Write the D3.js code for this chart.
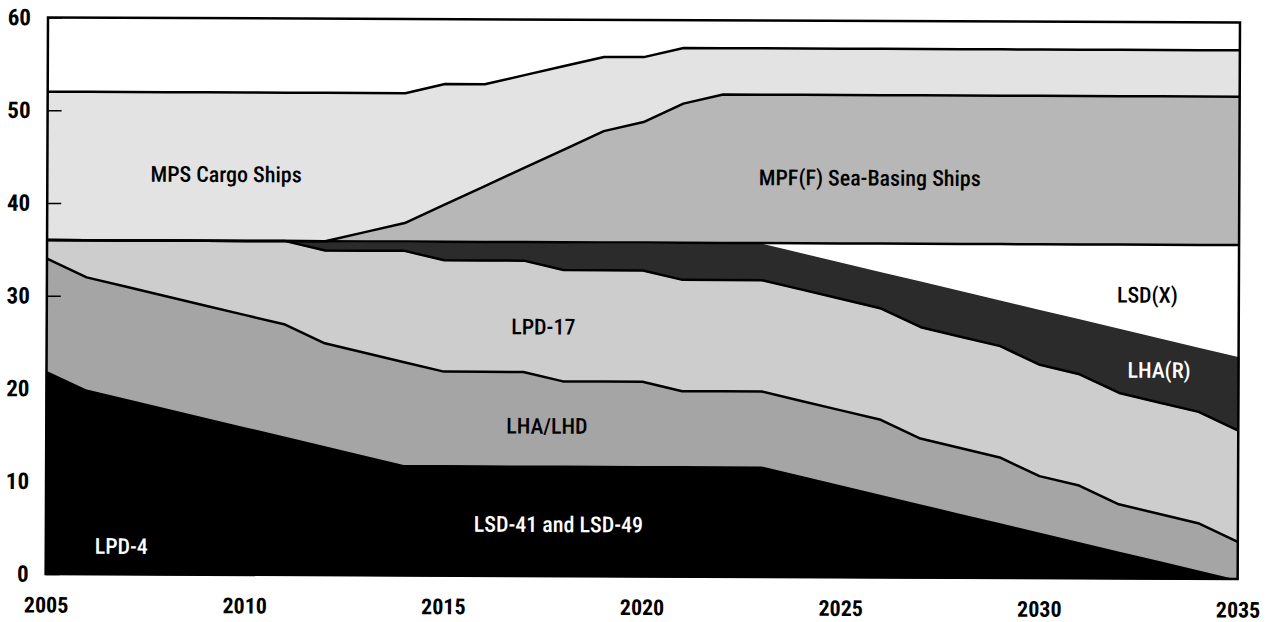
<!DOCTYPE html>
<html>
<head>
<meta charset="utf-8">
<script src="https://cdn.jsdelivr.net/npm/d3@7"></script>
<style>
body { margin: 0; background: #fff; }
svg text { font-family: "Roboto Condensed", "DejaVu Sans Condensed", sans-serif; }
</style>
</head>
<body>
<script>
// ships by year (bottom layer first)
years      = [2005,2006,2007,2008,2009,2010,2011,2012,2013,2014,2015,2016,2017,2018,2019,2020,2021,2022,2023,2024,2025,2026,2027,2028,2029,2030,2031,2032,2033,2034,2035];
lsd41_49   = [12,12,12,12,12,12,12,12,12,12,12,12,12,12,12,12,12,12,12,11,10,9,8,7,6,5,4,3,2,1,0];
lpd4       = [10,8,7,6,5,4,3,2,1,0,0,0,0,0,0,0,0,0,0,0,0,0,0,0,0,0,0,0,0,0,0];
lhaLhd     = [12,12,12,12,12,12,12,11,11,11,10,10,10,9,9,9,8,8,8,8,8,8,7,7,7,6,6,5,5,5,4];
lpd17      = [2,4,5,6,7,8,9,10,11,12,12,12,12,12,12,12,12,12,12,12,12,12,12,12,12,12,12,12,12,12,12];
lhaR       = [0,0,0,0,0,0,0,1,1,1,2,2,2,3,3,3,4,4,4,4,4,4,5,5,5,6,6,7,7,7,8];
lsdX       = [0,0,0,0,0,0,0,0,0,0,0,0,0,0,0,0,0,0,0,1,2,3,4,5,6,7,8,9,10,11,12];
mpff       = [0,0,0,0,0,0,0,0,1,2,4,6,8,10,12,13,15,16,16,16,16,16,16,16,16,16,16,16,16,16,16];
mpsCargo   = [16,16,16,16,16,16,16,16,15,14,13,11,10,9,8,7,6,5,5,5,5,5,5,5,5,5,5,5,5,5,5];

xTicks = [2005,2010,2015,2020,2025,2030,2035];
yTicks = [0,10,20,30,40,50,60];

width = 1269;
height = 622;
margin = { top: 17.5, right: 29, bottom: 48, left: 48 };

keys = ["LSD-41 and LSD-49","LPD-4","LHA/LHD","LPD-17","LHA(R)","LSD(X)","MPF(F)","MPS"];
var columns = [lsd41_49, lpd4, lhaLhd, lpd17, lhaR, lsdX, mpff, mpsCargo];
var fills = ["#000","#000","#a5a5a5","#cdcdcd","#2b2b2b","#fff","#b7b7b7","#e3e3e3"];
// layers whose top edge gets a black rule
var ruled = ["LHA/LHD","LPD-17","LSD(X)","MPF(F)","MPS"];

data = years.map(function(yr, i){
    var rec = { year: yr };
    keys.forEach(function(k, j){ rec[k] = columns[j][i]; });
    return rec;
});

series = d3.stack().keys(keys)(data);

x = d3.scaleLinear()
    .domain([2005, 2035])
    .range([margin.left, width - margin.right]);

y = d3.scaleLinear()
    .domain([0, 60])
    .range([height - margin.bottom, margin.top]);

area = d3.area()
    .x(d => x(d.data.year))
    .y0(d => y(d[0]))
    .y1(d => y(d[1]));

topLine = d3.line()
    .x(d => x(d.data.year))
    .y(d => y(d[1]));

const svg = d3.select("body")
    .append("svg")
    .attr("width", width)
    .attr("height", height);

// the printed page is scanned slightly askew
const g = svg.append("g")
    .attr("transform", "rotate(0.24," + margin.left + "," + margin.top + ")");

// stroke in the fill colour hides the hairline seams between layers
g.append("g")
    .selectAll("path")
    .data(series)
    .join("path")
    .attr("fill", (d, i) => fills[i])
    .attr("stroke", (d, i) => fills[i])
    .attr("stroke-width", 1.5)
    .attr("d", area);

g.append("g")
    .selectAll("path")
    .data(series.filter(s => ruled.indexOf(s.key) >= 0))
    .join("path")
    .attr("fill", "none")
    .attr("stroke", "#000")
    .attr("stroke-width", 2.5)
    .attr("stroke-linejoin", "round")
    .attr("d", topLine);

// frame
g.append("rect")
    .attr("x", margin.left)
    .attr("y", margin.top)
    .attr("width", width - margin.left - margin.right)
    .attr("height", height - margin.top - margin.bottom)
    .attr("fill", "none")
    .attr("stroke", "#000")
    .attr("stroke-width", 2.5);

// short inner ticks
g.append("g")
    .attr("transform", `translate(${margin.left},0)`)
    .call(d3.axisRight(y).tickValues(yTicks).tickSize(14).tickFormat(""))
    .call(g => g.select(".domain").remove())
    .call(g => g.selectAll("line").attr("stroke-width", 1.5));

g.append("g")
    .attr("transform", `translate(${margin.left},0)`)
    .call(d3.axisLeft(y).tickValues(yTicks).tickSize(0).tickPadding(17))
    .call(g => g.select(".domain").remove())
    .call(g => g.selectAll("text")
        .attr("font-size", 23)
        .attr("font-weight", "bold")
        .attr("fill", "#000"));

g.append("g")
    .attr("transform", `translate(0,${height - margin.bottom})`)
    .call(d3.axisBottom(x).tickValues(xTicks).tickSize(0).tickPadding(23).tickFormat(d3.format("d")))
    .call(g => g.select(".domain").remove())
    .call(g => g.selectAll("text")
        .attr("font-size", 22)
        .attr("font-weight", "bold")
        .attr("fill", "#000"));

// area labels, placed in data units
var labels = [
    { text: "MPS Cargo Ships",         year: 2009.5, value: 43.2, color: "#000" },
    { text: "MPF(F) Sea-Basing Ships", year: 2025.7, value: 43.1, color: "#000" },
    { text: "LSD(X)",                  year: 2032.7, value: 30.6, color: "#000" },
    { text: "LHA(R)",                  year: 2033.0, value: 22.5, color: "#fff" },
    { text: "LPD-17",                  year: 2017.5, value: 26.9, color: "#000" },
    { text: "LHA/LHD",                 year: 2017.6, value: 16.2, color: "#000" },
    { text: "LSD-41 and LSD-49",       year: 2017.9, value: 5.6,  color: "#fff" },
    { text: "LPD-4",                   year: 2006.9, value: 3.05, color: "#fff" }
];

g.append("g")
    .selectAll("text")
    .data(labels)
    .join("text")
    .attr("x", d => x(d.year))
    .attr("y", d => y(d.value))
    .attr("dy", "0.36em")
    .attr("text-anchor", "middle")
    .attr("font-size", 22)
    .attr("font-weight", 500)
    .attr("fill", d => d.color)
    .text(d => d.text);
</script>
</body>
</html>
